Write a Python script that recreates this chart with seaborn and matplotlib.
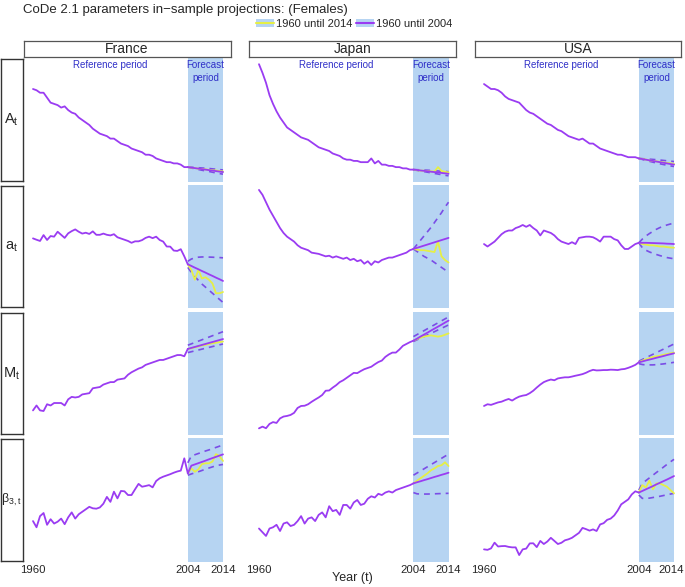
import numpy as np
import pandas as pd
import matplotlib
matplotlib.use("Agg")
import matplotlib.pyplot as plt
import matplotlib.transforms as mtransforms
from matplotlib.patches import Patch, Rectangle
from matplotlib.lines import Line2D
import seaborn as sns

sns.set_theme(style="white")
plt.rcParams['font.family'] = ['Liberation Sans', 'DejaVu Sans']

# ---------------- data (relative units) ----------------
countries = ["France", "Japan", "USA"]
params = ["A", "a", "M", "b3"]
row_labels = [r"$\mathregular{A_t}$", r"$\mathregular{a_t}$", r"$\mathregular{M_t}$", r"$\mathregular{\beta_{3,t}}$"]
years_fit = list(range(1960, 2005))
years_fc = list(range(2004, 2015))
tick_years = [1960, 2004, 2014]
tick_labels = ["1960", "2004", "2014"]

# ---- A_t
fra_A_fit = [75, 74, 72, 72, 68, 64, 63, 62, 60, 61, 58, 56, 55, 52, 50, 48, 46, 43, 41, 39, 38, 37, 35, 35, 33,
             31, 30, 29, 27, 26, 25, 24, 22, 22, 21, 19, 18, 17, 16, 16, 15, 15, 14, 12, 12]
fra_A_mean = [12, 11.6, 11.2, 10.8, 10.4, 10, 9.6, 9.2, 8.8, 8.4, 8]
fra_A_hi = [12, 11.9, 11.7, 11.5, 11.3, 11.1, 10.9, 10.6, 10.3, 10, 9.7]
fra_A_lo = [12, 11.3, 10.7, 10.1, 9.5, 9, 8.5, 7.9, 7.3, 6.8, 6.3]
fra_A_obs = [12, 11.5, 11.3, 10.7, 10.5, 10.2, 9.8, 9.4, 9.3, 8.8, 8.5]

jpn_A_fit = [95, 88, 80, 70, 63, 57, 52, 48, 44, 42, 40, 38, 36, 35, 34, 32, 30, 28, 27, 26, 25, 23, 22, 21, 19,
             18, 18, 17, 17, 16, 16, 16, 19, 15, 17, 14, 14, 13, 13, 12, 12, 11, 11, 10, 10]
jpn_A_mean = [10, 9.7, 9.3, 9, 8.7, 8.3, 8, 7.7, 7.3, 7, 6.6]
jpn_A_hi = [10, 9.9, 9.8, 9.6, 9.5, 9.3, 9.1, 8.9, 8.7, 8.5, 8.3]
jpn_A_lo = [10, 9.4, 8.9, 8.4, 7.9, 7.4, 6.9, 6.4, 5.9, 5.4, 5]
jpn_A_obs = [10, 9.5, 9.2, 9.1, 8.8, 8.6, 8.4, 12, 8.9, 8.2, 7.8]

usa_A_fit = [79, 77, 75, 75, 74, 72, 69, 67, 66, 65, 64, 61, 58, 56, 55, 53, 51, 49, 47, 46, 44, 42, 41, 39, 37,
             36, 35, 34, 35, 33, 31, 31, 29, 27, 26, 25, 24, 23, 22, 22, 21, 20, 20, 20, 19]
usa_A_mean = [19, 18.5, 18, 17.5, 17, 16.5, 16, 15.5, 15, 14.5, 14]
usa_A_hi = [19, 18.8, 18.6, 18.4, 18.2, 18, 17.7, 17.4, 17.1, 16.8, 16.5]
usa_A_lo = [19, 18.2, 17.4, 16.7, 16, 15.3, 14.7, 14.1, 13.5, 13, 12.5]
usa_A_obs = [19, 18.6, 18.1, 17.4, 17, 16.7, 16.2, 15.8, 15.4, 15.1, 14.6]

# ---- a_t
fra_a_fit = [56.6, 55.5, 54.5, 59.3, 55.3, 58.5, 58, 62, 59.5, 57, 60.7, 62.5, 63.9, 62, 60.5, 61.2, 60.2, 62.3,
             59.5, 59.5, 60.5, 59.5, 59, 60, 57.5, 56.5, 55.5, 54.5, 53, 54.2, 54.2, 55.2, 57, 58, 56.8, 58, 55.3,
             54, 50, 49.9, 46.7, 46.4, 47.8, 42, 35.5]
fra_a_mean = [35.5, 34.2, 32.8, 31.5, 30.1, 28.8, 27.4, 26.1, 24.7, 23.4, 22]
fra_a_hi = [38, 39.8, 40.8, 41.3, 41.5, 41.5, 41.4, 41.3, 41.1, 41, 40.8]
fra_a_lo = [33, 29, 25.5, 22.5, 19.5, 17, 14.5, 12, 9.5, 7, 4.5]
fra_a_obs = [35.5, 31, 23, 31, 24, 25, 23, 20, 12, 12, 13]

jpn_a_fit = [96, 92, 86, 80, 75, 70, 65, 61, 58, 56, 54, 51, 49, 48, 47, 45, 44.5, 44, 43, 42, 42.5, 41, 42, 41,
             40, 41, 39, 40, 38, 39, 36, 38, 35, 38, 37, 39, 40, 41, 41, 42, 43, 44, 45, 47, 48]
jpn_a_mean = [48, 48.9, 49.8, 50.7, 51.6, 52.5, 53.4, 54.3, 55.2, 56.1, 57]
jpn_a_hi = [48, 51.5, 55, 58.5, 62, 65.5, 69.5, 73.5, 77.5, 82, 86]
jpn_a_lo = [48, 46, 44, 42, 40.5, 39, 37, 35, 33, 31, 29]
jpn_a_obs = [48, 47.5, 47, 47, 46.5, 46, 45.5, 54, 42, 39, 37]

usa_a_fit = [52, 50, 52, 54, 57, 60, 62, 63, 63, 65, 66, 67.5, 66, 67.5, 65, 63, 59, 63, 62, 61, 59, 56, 54, 53,
             52, 53.5, 52, 57, 57.5, 58, 58, 57.5, 56, 54, 58, 58, 58, 56, 55, 51, 48, 48, 50, 52, 53]
usa_a_mean = [53, 53, 53, 52.9, 52.8, 52.7, 52.6, 52.5, 52.3, 52.2, 52]
usa_a_hi = [53, 56, 58.5, 60.5, 62.3, 64, 65.4, 66.5, 67.5, 68.3, 69]
usa_a_lo = [53, 49, 47, 45.6, 44.5, 43.5, 42.6, 41.8, 41, 40.5, 40]
usa_a_obs = [53, 52, 51.5, 51, 51, 50.5, 50, 50, 49.5, 49.2, 49]

# ---- M_t
fra_M_fit = [20, 24, 20, 19.5, 25, 24, 26, 26, 26, 24, 29, 31, 30.5, 31, 33, 33.5, 34, 38, 38.5, 39, 41, 42, 43,
             43, 45, 45.5, 46, 49, 51, 52.5, 54, 55, 57, 58, 59, 60, 61, 61, 62, 63, 64, 65, 65, 64, 70]
fra_M_mean = [70, 70.8, 71.6, 72.4, 73.2, 74, 74.8, 75.6, 76.4, 77.2, 78]
fra_M_hi = [73, 74.1, 75.2, 76.3, 77.4, 78.5, 79.6, 80.7, 81.8, 82.9, 84]
fra_M_lo = [67, 67.7, 68.4, 69.1, 69.8, 70.5, 71.2, 71.9, 72.6, 73.3, 74]
fra_M_obs = [70, 70.5, 71.3, 72, 72.8, 73.2, 74, 74.6, 75, 75.5, 76]

jpn_M_fit = [5.4, 6.8, 5.5, 9, 10.5, 9.8, 13.5, 15, 15.5, 16.3, 18, 22, 23.6, 23.8, 25, 27, 28.8, 30.5, 32.5, 36,
             36.2, 38.5, 40.5, 43, 44.5, 46.5, 48.5, 50.5, 50.3, 52, 53.5, 54.5, 55.5, 57.5, 59.3, 60.5, 63.5,
             65.5, 67, 67, 69.5, 72.5, 74, 75.5, 76.7]
jpn_M_mean = [76.7, 78.3, 80, 81.6, 83.2, 84.9, 86.5, 88.1, 89.7, 91.4, 93]
jpn_M_hi = [80, 81.6, 83.2, 84.8, 86.4, 88, 89.6, 91.2, 92.8, 94.4, 96]
jpn_M_lo = [76, 77.4, 78.7, 80, 81.4, 82.7, 84, 85.4, 86.7, 88.1, 89.5]
jpn_M_obs = [76.7, 78, 79, 80, 80.5, 81, 80.5, 80, 80.5, 81.5, 82.6]

usa_M_fit = [23.6, 25, 24.5, 25.5, 26.5, 27.1, 28.3, 29.3, 28, 29.8, 31.2, 32, 32.5, 34, 36, 38.6, 41, 43, 44.2,
             45.1, 44.5, 46, 46.5, 46.9, 46.9, 47.5, 48.2, 48.8, 49.5, 50.6, 52, 53, 52.5, 52.6, 52.8, 52.8, 53.1,
             53, 52.8, 53.4, 53.7, 54.6, 55.7, 57, 59.1]
usa_M_mean = [59.1, 59.8, 60.6, 61.3, 62, 62.8, 63.5, 64.2, 65, 65.7, 66.4]
usa_M_hi = [60, 61.4, 62.8, 64.2, 65.6, 67, 68.4, 69.8, 71.2, 72.6, 74]
usa_M_lo = [58, 57.3, 57, 57, 57, 57.2, 57.5, 57.8, 58.2, 58.6, 59.1]
usa_M_obs = [59.1, 60.5, 61.5, 62.5, 63.5, 64, 64.5, 65.2, 65.8, 66.4, 67]

# ---- beta_{3,t}
fra_b3_fit = [33, 28, 37, 39.5, 30, 34.5, 31, 32.5, 35, 30.5, 36, 40, 35, 38.5, 40.5, 42.5, 44.5, 43.3, 43, 44,
              47, 52.5, 48.5, 56.7, 51.3, 57.3, 57, 54, 54, 58.6, 63, 60.7, 61.3, 62, 60.2, 65.3, 67.5, 68.8,
              69.8, 70.8, 72, 73, 73.7, 83.6, 71.5]
fra_b3_mean = [71.5, 77.7, 78.7, 79.7, 80.7, 81.7, 82.8, 83.8, 84.8, 85.8, 86.8]
fra_b3_hi = [80, 85.5, 86.5, 87.5, 88.5, 89.5, 90.4, 91.4, 92.4, 93.4, 94.4]
fra_b3_lo = [70, 71, 71.9, 72.8, 73.8, 74.8, 75.8, 76.7, 77.7, 78.2, 78.7]
fra_b3_obs = [71.5, 75.5, 72.8, 74.7, 79, 79.6, 79.6, 81, 87, 85.5, 81.5]

jpn_b3_fit = [27, 24, 21, 27, 28, 30, 25, 31, 32, 29, 30, 33, 37, 31, 35, 36, 33, 38, 40, 36, 45, 41, 42, 38, 46,
              46, 43, 48, 50, 46, 47, 51, 53, 52, 55, 54, 56, 57, 56, 58, 59, 60, 61, 62, 63.4]
jpn_b3_mean = [63.4, 64.3, 65.1, 66, 66.8, 67.7, 68.6, 69.4, 70.3, 71.1, 72]
jpn_b3_hi = [70, 71.7, 73.4, 75.1, 76.8, 78.5, 80.2, 81.9, 83.6, 85.3, 87]
jpn_b3_lo = [56, 55, 54.8, 54.8, 54.8, 54.9, 55, 55.1, 55.2, 55.3, 55.4]
jpn_b3_obs = [63.4, 65.5, 67.5, 69.5, 71.5, 74, 75.5, 77.4, 78, 80.4, 77.4]

usa_b3_fit = [10.2, 9.8, 11, 15.6, 12.5, 12.8, 12.9, 12.2, 11.8, 11.8, 5.6, 10.2, 10.8, 15, 15.1, 12, 17, 14.5,
              16.5, 19.5, 17, 14.5, 15.5, 17.5, 18.3, 19.5, 21.5, 23.5, 27.5, 26.5, 25.3, 26.3, 25, 30.3, 31.3,
              34, 35, 37.5, 41.5, 46.5, 48.5, 50.5, 54.5, 57, 56]
usa_b3_mean = [56, 57.3, 58.6, 59.9, 61.2, 62.6, 63.9, 65.2, 66.5, 67.9, 69.3]
usa_b3_hi = [58, 63.4, 65.6, 67.8, 70, 72.2, 74.3, 76.5, 78.7, 80.8, 82.8]
usa_b3_lo = [54, 51.3, 51.3, 51.5, 52, 52.5, 53, 53.6, 54.2, 54.8, 55.4]
usa_b3_obs = [56, 62, 60, 65.6, 58.6, 63.4, 63.4, 62, 60.7, 58, 55.4]

# ---------------- styling ----------------
PURPLE = "#9a3cf2"
DASH = "#7a4de6"
YELLOW = "#e6ef45"
BAND = "#b6d4f2"
TXTBLUE = "#2f2fc8"

W, H = 685, 587
fig = plt.figure(figsize=(W / 100, H / 100), dpi=100)

def rect(x0, x1, y0, y1):
    return [x0 / W, 1 - y1 / H, (x1 - x0) / W, (y1 - y0) / H]

col_x = [(23.5, 232.5), (249.5, 458.0), (474.5, 683.5)]
row_y = [(58, 182), (185, 308), (312, 435), (438, 562)]
prefix = {"France": "fra", "Japan": "jpn", "USA": "usa"}
g = globals()

for r, p in enumerate(params):
    for c, cn in enumerate(countries):
        ax = fig.add_axes(rect(col_x[c][0], col_x[c][1], row_y[r][0], row_y[r][1]))
        ax.axvspan(2004, 2014, color=BAND, lw=0, zorder=0)
        key = f"{prefix[cn]}_{p}"
        fit_df = pd.DataFrame({"year": years_fit, "value": g[key + "_fit"]})
        fc_df = pd.DataFrame({"year": years_fc, "mean": g[key + "_mean"], "hi": g[key + "_hi"],
                              "lo": g[key + "_lo"], "obs": g[key + "_obs"]})
        for col in ["hi", "lo"]:
            sns.lineplot(data=fc_df, x="year", y=col, ax=ax, color=DASH, lw=1.2,
                         linestyle=(0, (3.5, 3)), zorder=2)
        sns.lineplot(data=fc_df, x="year", y="obs", ax=ax, color=YELLOW, lw=1.3, zorder=3)
        sns.lineplot(data=fc_df, x="year", y="mean", ax=ax, color=PURPLE, lw=1.3, zorder=4)
        sns.lineplot(data=fit_df, x="year", y="value", ax=ax, color=PURPLE, lw=1.3, zorder=4)
        ax.set_xlim(1957.3, 2016.7)
        ax.set_ylim(0, 100)
        ax.set_yticks([])
        ax.set_xlabel("")
        ax.set_ylabel("")
        for s in ax.spines.values():
            s.set_visible(False)
        if r == 3:
            ax.set_xticks(tick_years)
            ax.set_xticklabels(tick_labels, fontsize=8.2)
            ax.tick_params(axis="x", length=0, pad=2)
            if c == 2:
                lab = ax.get_xticklabels()[-1]
                lab.set_transform(lab.get_transform() +
                                  mtransforms.ScaledTranslation(-3 / 100, 0, fig.dpi_scale_trans))
        else:
            ax.set_xticks([])
        if r == 0:
            ax.text(1982, 98, "Reference period", color=TXTBLUE, fontsize=7, ha="center", va="top")
            ax.text(2009, 98, "Forecast\nperiod", color=TXTBLUE, fontsize=7, ha="center", va="top",
                    linespacing=1.3)

# column strips
for c, cn in enumerate(countries):
    sax = fig.add_axes(rect(col_x[c][0], col_x[c][1] - 2, 41, 57))
    sax.set_xticks([]); sax.set_yticks([])
    sax.set_facecolor("white")
    for s in sax.spines.values():
        s.set_edgecolor("#555555"); s.set_linewidth(0.9)
    sax.text(0.5, 0.5, cn, ha="center", va="center", fontsize=10, transform=sax.transAxes)

# row strips
row_fs = [10.5, 10.5, 10.5, 9]
for r in range(4):
    sax = fig.add_axes(rect(1, 22.5, row_y[r][0] + 1, row_y[r][1] - 1))
    sax.set_xticks([]); sax.set_yticks([])
    sax.set_facecolor("white")
    for s in sax.spines.values():
        s.set_edgecolor("#333333"); s.set_linewidth(1.0)
    sax.text(0.5, 0.5, row_labels[r], ha="center", va="center", fontsize=row_fs[r], transform=sax.transAxes)

fig.text(23 / W, 1 - 10 / H, "CoDe 2.1 parameters in\u2212sample projections: (Females)",
         fontsize=9.5, ha="left", va="center")
fig.text(352 / W, 1 - 578 / H, "Year (t)", fontsize=9, ha="center", va="center")

handles = [(Patch(facecolor=BAND, edgecolor="none"), Line2D([], [], color=YELLOW, lw=1.5)),
           (Patch(facecolor=BAND, edgecolor="none"), Line2D([], [], color=PURPLE, lw=1.5))]
fig.legend(handles, ["1960 until 2014", "1960 until 2004"], loc="center", ncol=2,
           bbox_to_anchor=(354 / W, 1 - 24 / H), frameon=False, fontsize=8,
           handlelength=1.6, handletextpad=0.2, columnspacing=0.3, borderpad=0)

fig.savefig("out.png", dpi=100)
